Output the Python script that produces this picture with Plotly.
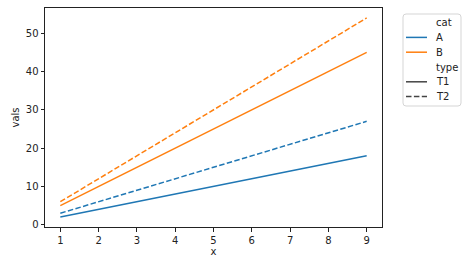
import plotly.graph_objects as go

x_vals = [1, 2, 3, 4, 5, 6, 7, 8, 9]
a_t1 = [2, 4, 6, 8, 10, 12, 14, 16, 18]
a_t2 = [3, 6, 9, 12, 15, 18, 21, 24, 27]
b_t1 = [5, 10, 15, 20, 25, 30, 35, 40, 45]
b_t2 = [6, 12, 18, 24, 30, 36, 42, 48, 54]
x_ticks = [1, 2, 3, 4, 5, 6, 7, 8, 9]
y_ticks = [0, 10, 20, 30, 40, 50]
legend_labels = ["cat", "A", "B", "type", "T1", "T2"]

BLUE = "#1f77b4"
ORANGE = "#ff7f0e"
GRAY = "#444444"
DASH = "5.5px,2.4px"
LW = 1.5

W, H = 468, 262
ML, MR, MT, MB = 45, 86, 8, 35
PW = W - ML - MR
PH = H - MT - MB


def px(x):
    return (x - ML) / PW


def py(y):
    return (H - MB - y) / PH


fig = go.Figure()
series = [
    (a_t1, BLUE, "solid"),
    (a_t2, BLUE, DASH),
    (b_t1, ORANGE, "solid"),
    (b_t2, ORANGE, DASH),
]
for ys, col, dash in series:
    fig.add_trace(go.Scatter(x=x_vals, y=ys, mode="lines",
                             line=dict(color=col, width=LW, dash=dash),
                             showlegend=False, hoverinfo="skip"))

# manual legend (matplotlib style)
shapes = []
annotations = []
bx0, bx1, by0, by1, r = 403, 461, 14, 106, 3
path = (f"M {px(bx0 + r)},{py(by0)} L {px(bx1 - r)},{py(by0)} "
        f"Q {px(bx1)},{py(by0)} {px(bx1)},{py(by0 + r)} "
        f"L {px(bx1)},{py(by1 - r)} Q {px(bx1)},{py(by1)} {px(bx1 - r)},{py(by1)} "
        f"L {px(bx0 + r)},{py(by1)} Q {px(bx0)},{py(by1)} {px(bx0)},{py(by1 - r)} "
        f"L {px(bx0)},{py(by0 + r)} Q {px(bx0)},{py(by0)} {px(bx0 + r)},{py(by0)} Z")
shapes.append(dict(type="path", xref="paper", yref="paper", path=path,
                   line=dict(color="#d5d5d5", width=1), fillcolor="white",
                   layer="above"))
handle_styles = [None, (BLUE, "solid"), (ORANGE, "solid"), None,
                 (GRAY, "solid"), (GRAY, DASH)]
y0, dy = 22.6, 14.8
for i, (lab, st) in enumerate(zip(legend_labels, handle_styles)):
    yc = y0 + i * dy
    if st is not None:
        col, dash = st
        shapes.append(dict(type="line", xref="paper", yref="paper",
                           x0=px(406), x1=px(427), y0=py(yc), y1=py(yc),
                           line=dict(color=col, width=LW, dash=dash),
                           layer="above"))
    annotations.append(dict(text=lab, xref="paper", yref="paper",
                            x=px(434), y=py(yc), xanchor="left",
                            yanchor="middle", showarrow=False,
                            font=dict(family="DejaVu Sans", size=10,
                                      color="#222222")))

axis_common = dict(
    showline=True, linecolor="#222222", linewidth=1, mirror=True,
    showgrid=False, zeroline=False, automargin=False,
    ticks="outside", ticklen=3.5, tickwidth=0.8, tickcolor="#222222",
    tickfont=dict(family="DejaVu Sans", size=10, color="#222222"),
)

fig.update_layout(
    width=W, height=H,
    margin=dict(l=ML, r=MR, t=MT, b=MB),
    paper_bgcolor="white", plot_bgcolor="white",
    font=dict(family="DejaVu Sans", size=10, color="#222222"),
    showlegend=False,
    shapes=shapes, annotations=annotations,
    xaxis=dict(range=[0.6, 9.4], tickvals=x_ticks,
               title=dict(text="x", standoff=3, font=dict(size=10)),
               **axis_common),
    yaxis=dict(range=[-0.6, 56.6], tickvals=y_ticks,
               title=dict(text="vals", standoff=4, font=dict(size=10)),
               **axis_common),
)

fig.write_html("out.html")
